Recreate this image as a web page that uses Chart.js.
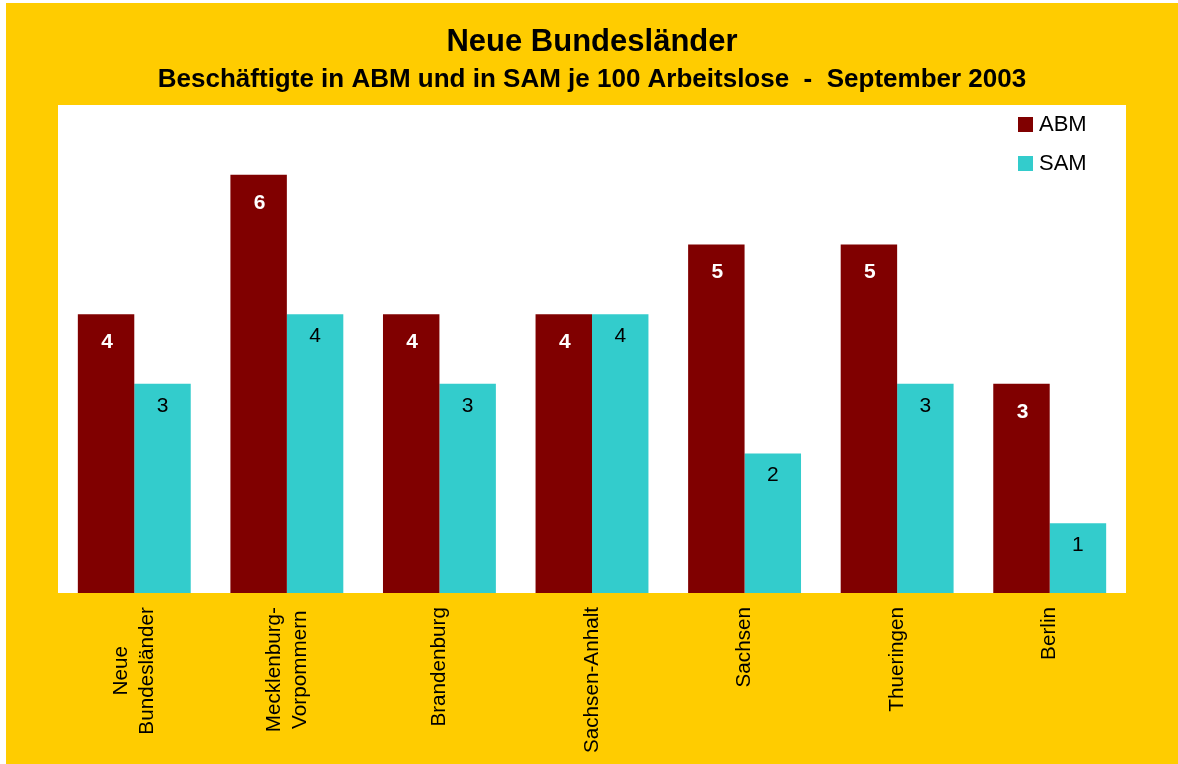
<!DOCTYPE html>
<html>
<head>
<meta charset="utf-8">
<title>Neue Bundesländer</title>
<script src="https://cdn.jsdelivr.net/npm/chart.js@4/dist/chart.umd.min.js"></script>
<style>
  body { margin: 0; background: #ffffff; }
  canvas { display: block; }
</style>
</head>
<body>
<canvas id="chart" width="1178" height="764"></canvas>
<script>
// data
const laender = [["Neue", "Bundesländer"], ["Mecklenburg-", "Vorpommern"], "Brandenburg", "Sachsen-Anhalt", "Sachsen", "Thueringen", "Berlin"];
const abm = [4, 6, 4, 4, 5, 5, 3];
const sam = [3, 4, 3, 4, 2, 3, 1];
const seriesNames = ["ABM", "SAM"];

const FONT = "'Liberation Sans', Arial, sans-serif";
const yellow = "#FFCC00";
const colors = ["#800000", "#33CCCC"];

// yellow frame + white plot area
const background = {
  id: "background",
  beforeDraw: (chart) => {
    const ctx = chart.ctx;
    const a = chart.chartArea;
    ctx.save();
    ctx.fillStyle = "#ffffff";
    ctx.fillRect(0, 0, chart.width, chart.height);
    ctx.fillStyle = yellow;
    ctx.fillRect(6, 3, chart.width - 6, chart.height - 3);
    ctx.fillStyle = "#ffffff";
    ctx.fillRect(a.left, a.top, a.right - a.left, a.bottom - a.top);
    ctx.restore();
  }
};

// numbers inside the bars
const barLabels = {
  id: "barLabels",
  afterDatasetsDraw: (chart) => {
    const ctx = chart.ctx;
    const styles = [
      { font: "bold 21px " + FONT, color: "#ffffff", dy: 28 },
      { font: "21px " + FONT, color: "#000000", dy: 22 }
    ];
    ctx.save();
    ctx.textAlign = "center";
    ctx.textBaseline = "middle";
    chart.data.datasets.forEach((ds, i) => {
      const meta = chart.getDatasetMeta(i);
      ctx.font = styles[i].font;
      ctx.fillStyle = styles[i].color;
      meta.data.forEach((bar, j) => {
        ctx.fillText(String(ds.data[j]), bar.x + (i === 0 ? 1 : 0), bar.y + styles[i].dy);
      });
    });
    ctx.restore();
  }
};

// rotated category names under the axis
const categoryNames = {
  id: "categoryNames",
  afterDraw: (chart) => {
    const ctx = chart.ctx;
    const xs = chart.scales.x;
    const top = chart.chartArea.bottom + 14;
    ctx.save();
    ctx.font = "20.7px " + FONT;
    ctx.fillStyle = "#000000";
    ctx.textAlign = "center";
    ctx.textBaseline = "middle";
    chart.data.labels.forEach((lab, i) => {
      const lines = Array.isArray(lab) ? lab : [lab];
      const w = Math.max(...lines.map((l) => ctx.measureText(l).width));
      const x = xs.getPixelForTick(i);
      ctx.save();
      ctx.translate(x, top);
      ctx.rotate(-Math.PI / 2);
      lines.forEach((l, k) => {
        ctx.fillText(l, -w / 2, (k - (lines.length - 1) / 2) * 26);
      });
      ctx.restore();
    });
    ctx.restore();
  }
};

// legend in the top right corner of the plot
const cornerLegend = {
  id: "cornerLegend",
  afterDraw: (chart) => {
    const ctx = chart.ctx;
    ctx.save();
    ctx.font = "22px " + FONT;
    ctx.textBaseline = "middle";
    ctx.textAlign = "left";
    chart.data.datasets.forEach((ds, i) => {
      const y = 124.5 + i * 39;
      ctx.fillStyle = ds.backgroundColor;
      ctx.fillRect(1018, y - 7.5, 15, 15);
      ctx.fillStyle = "#000000";
      ctx.fillText(ds.label, 1039, y);
    });
    ctx.restore();
  }
};

new Chart(document.getElementById("chart"), {
  type: "bar",
  data: {
    labels: laender,
    datasets: [
      { label: seriesNames[0], data: abm, backgroundColor: colors[0] },
      { label: seriesNames[1], data: sam, backgroundColor: colors[1] }
    ]
  },
  options: {
    responsive: false,
    animation: false,
    layout: { padding: { left: 58, right: 52, top: 0, bottom: 171 } },
    datasets: { bar: { categoryPercentage: 0.74, barPercentage: 1.0 } },
    scales: {
      x: { display: false },
      y: { display: false, min: 0, max: 7 }
    },
    plugins: {
      legend: { display: false },
      tooltip: { enabled: false },
      title: {
        display: true,
        text: "Neue Bundesländer",
        color: "#000000",
        font: { family: FONT, size: 31, weight: "bold" },
        padding: { top: 24, bottom: 0 }
      },
      subtitle: {
        display: true,
        text: "Beschäftigte in ABM und in SAM je 100 Arbeitslose  -  September 2003",
        color: "#000000",
        font: { family: FONT, size: 26, weight: "bold" },
        padding: { top: 2.6, bottom: 10 }
      }
    }
  },
  plugins: [background, barLabels, categoryNames, cornerLegend]
});
</script>
</body>
</html>
